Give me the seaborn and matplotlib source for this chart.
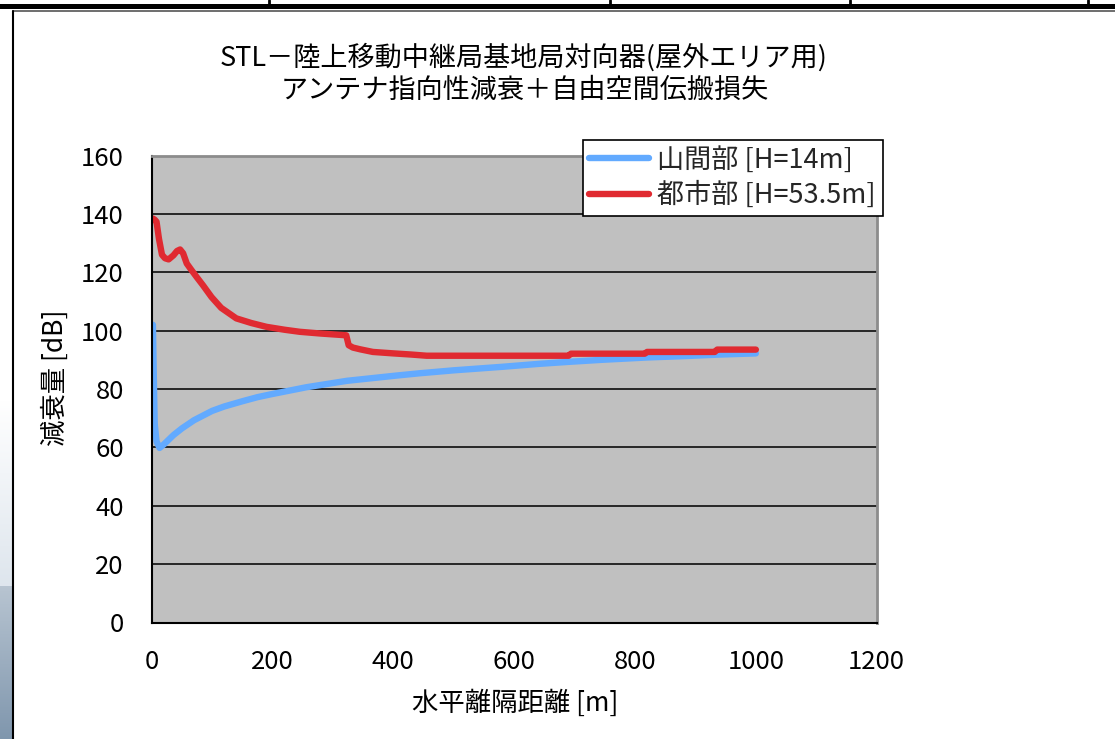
import numpy as np
import pandas as pd
import matplotlib
matplotlib.use("Agg")
import matplotlib.pyplot as plt
from matplotlib.lines import Line2D
from matplotlib.patches import Rectangle
import seaborn as sns

# ---- data -------------------------------------------------------------
title_lines = ["STL－陸上移動中継局基地局対向器(屋外エリア用)",
               "アンテナ指向性減衰＋自由空間伝搬損失"]
x_label = "水平離隔距離 [m]"
y_label = "減衰量 [dB]"
series_names = ["山間部 [H=14m]", "都市部 [H=53.5m]"]
series_colors = ["#62AAFF", "#E02A31"]

x_ticks = [0, 200, 400, 600, 800, 1000, 1200]
y_ticks = [0, 20, 40, 60, 80, 100, 120, 140, 160]

dist_mountain = [2, 3, 4, 5, 8, 13, 20, 25, 36, 50, 70, 100, 120, 150, 175,
                 200, 256, 323, 405, 444, 500, 580, 640, 690, 745, 820, 885,
                 940, 1000]
loss_mountain = [102, 90, 78, 68, 62, 59.8, 61, 62, 64.2, 66.5, 69.3, 72.5,
                 74, 75.8, 77.2, 78.3, 80.6, 82.8, 84.6, 85.4, 86.4, 87.6,
                 88.6, 89.3, 90.0, 90.8, 91.3, 91.8, 92.2]

dist_urban = [2, 5, 8, 12, 17, 22, 28, 36, 42, 47, 52, 58, 66, 75, 85, 99,
              115, 140, 165, 190, 220, 245, 280, 322, 326, 333, 345, 366,
              400, 430, 455, 690, 694, 816, 820, 932, 936, 1000]
loss_urban = [138.4, 138, 137.3, 131.5, 126, 124.8, 124.4, 125.8, 127.3,
              127.8, 126.5, 123, 120.7, 118.2, 115.5, 111.5, 107.8, 104.2,
              102.6, 101.3, 100.3, 99.6, 99, 98.4, 95, 94.2, 93.6, 92.7,
              92.2, 91.8, 91.4, 91.4, 92.1, 92.1, 92.7, 92.7, 93.5, 93.5]

df = pd.concat([
    pd.DataFrame({"dist": dist_mountain, "loss": loss_mountain,
                  "series": series_names[0]}),
    pd.DataFrame({"dist": dist_urban, "loss": loss_urban,
                  "series": series_names[1]}),
], ignore_index=True)

# ---- style ------------------------------------------------------------
sns.set_theme(style="white")
plt.rcParams['font.family'] = ['Noto Sans CJK JP', 'DejaVu Sans']

W, H = 1115, 739
fig = plt.figure(figsize=(W / 100, H / 100), dpi=100)
fig.patch.set_facecolor("white")


def fx(px):
    return px / W


def fy(py):
    return 1 - py / H


# page furniture around the chart box
fig.add_artist(Rectangle((0, fy(8.5)), 1, 4.5 / H, transform=fig.transFigure,
                         facecolor="black", edgecolor="none"))
for xp in [269, 610, 850, 1088]:
    fig.add_artist(Line2D([fx(xp), fx(xp)], [fy(0), fy(5)],
                          transform=fig.transFigure, color="black", lw=2))
fig.add_artist(Line2D([fx(13), 1], [fy(10.5), fy(10.5)],
                      transform=fig.transFigure, color="#555555", lw=1.2))
fig.add_artist(Line2D([fx(13), fx(13)], [fy(10.5), 0],
                      transform=fig.transFigure, color="black", lw=1.5))

# soft gradient strip at the left page edge
grad_ax = fig.add_axes([0, 0, 12 / W, 339 / H])
rows = np.linspace(0, 1, 339)
top_col = np.array([1.0, 1.0, 1.0])
mid_col = np.array([0.87, 0.90, 0.93])
low_col = np.array([0.72, 0.77, 0.82])
bot_col = np.array([0.50, 0.59, 0.68])
cols = []
for r in rows:
    if r < 0.55:
        t = r / 0.55
        c = top_col * (1 - t) + mid_col * t
    else:
        t = (r - 0.55) / 0.45
        c = low_col * (1 - t) + bot_col * t
    cols.append(c)
grad = np.repeat(np.array(cols)[:, None, :], 12, axis=1)
grad_ax.imshow(grad, aspect="auto", interpolation="bilinear")
grad_ax.set_axis_off()

# ---- plot area --------------------------------------------------------
left, right, top, bottom = 151.7, 876.7, 155.5, 622.5
ax = fig.add_axes([fx(left), fy(bottom), (right - left) / W, (bottom - top) / H])
ax.set_facecolor("#C0C0C0")

sns.lineplot(data=df, x="dist", y="loss", hue="series",
             hue_order=series_names, palette=series_colors,
             estimator=None, sort=False, linewidth=4.6,
             solid_capstyle="round", solid_joinstyle="round", ax=ax)

ax.set_xlim(0, 1200)
ax.set_ylim(0, 160)
ax.set_xticks(x_ticks)
ax.set_yticks(y_ticks)
ax.set_xticklabels([str(v) for v in x_ticks])
ax.set_yticklabels([str(v) for v in y_ticks])
ax.set_xlabel("")
ax.set_ylabel("")

ax.yaxis.grid(True, color="#1a1a1a", lw=1.3)
ax.xaxis.grid(False)
ax.set_axisbelow(True)

ax.tick_params(axis="both", direction="in", length=5, width=1.2,
               colors="black", labelsize=18.5)
ax.tick_params(axis="y", pad=20)
ax.tick_params(axis="x", pad=19)

for side in ["left", "bottom"]:
    ax.spines[side].set_color("black")
    ax.spines[side].set_linewidth(1.5)
for side in ["top", "right"]:
    ax.spines[side].set_color("#8c8c8c")
    ax.spines[side].set_linewidth(2)

# legend
handles, labels = ax.get_legend_handles_labels()
leg = ax.legend(handles, labels, loc="upper left",
                bbox_to_anchor=(fx(582.7), fy(140)),
                bbox_transform=fig.transFigure, borderaxespad=0,
                frameon=True, fancybox=False, edgecolor="black",
                facecolor="white", framealpha=1, fontsize=19.5,
                borderpad=0.25, handlelength=2.2, handletextpad=0.3,
                labelspacing=0.3)
leg.get_frame().set_linewidth(1.2)
for ln in leg.get_lines():
    ln.set_linewidth(4.6)
    ln.set_solid_capstyle("round")

# titles and axis labels
fig.text(fx(524), fy(57), title_lines[0], ha="center", va="center",
         fontsize=19.5, color="black")
fig.text(fx(525), fy(90), title_lines[1], ha="center", va="center",
         fontsize=19.5, color="black")
fig.text(fx(55), fy(378), y_label, ha="center", va="center", rotation=90,
         fontsize=19, color="black")
fig.text(fx(515), fy(703), x_label, ha="center", va="center",
         fontsize=19, color="black")

fig.savefig("out.png", dpi=100)
